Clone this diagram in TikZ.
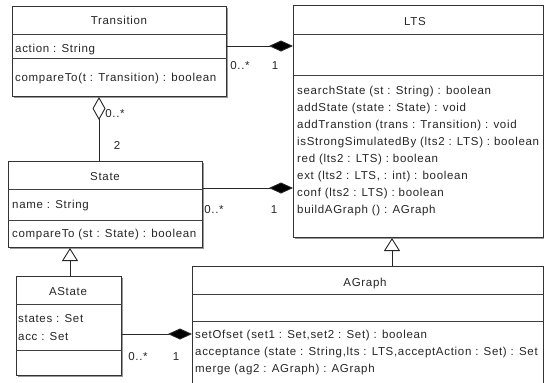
\documentclass[tikz,border=0pt]{standalone}
\usepackage{fontspec}
\setmainfont{Liberation Sans}[LetterSpace=6]
\usetikzlibrary{arrows.meta,calc,shadows}
\begin{document}
\begin{tikzpicture}[x=1pt,y=-1pt,
  every node/.style={font=\fontsize{11.5}{13}\selectfont, inner sep=0pt, text=black!85},
  classbox/.style={draw=black!80, line width=1pt, fill=white, anchor=north west,
    drop shadow={shadow xshift=1.6pt,shadow yshift=-1.6pt,fill=black!40,opacity=1}},
  divider/.style={draw=black!75, line width=0.9pt},
  title/.style={anchor=base},
  member/.style={anchor=base west},
  mult/.style={anchor=base},
  conn/.style={draw=black!85, line width=0.9pt},
  comp/.style={conn, -{Diamond[length=24pt,width=11pt,fill=black]}},
  aggr/.style={conn, {Diamond[open,length=23pt,width=13pt,fill=white]}-},
  gen/.style={conn, {Triangle[open,length=13pt,width=16pt,fill=white]}-},
]
\fill[white] (0,0) rectangle (544,383);
\useasboundingbox (0,0) rectangle (544,383);

% ---------- boxes ----------
\node[classbox, minimum width=214pt, minimum height=90pt] (trans) at (12,6) {};
\node[classbox, minimum width=250pt, minimum height=232pt] (lts) at (293,5) {};
\node[classbox, minimum width=194pt, minimum height=86pt] (state) at (8,161) {};
\node[classbox, minimum width=105pt, minimum height=99pt] (astate) at (16,276) {};
\node[classbox, minimum width=351pt, minimum height=118pt] (agraph) at (192,266) {};

% dividers
\draw[divider] ($(trans.north west)+(0,28)$) -- ($(trans.north east)+(0,28)$);
\draw[divider] ($(trans.north west)+(0,52)$) -- ($(trans.north east)+(0,52)$);
\draw[divider] ($(lts.north west)+(0,29)$) -- ($(lts.north east)+(0,29)$);
\draw[divider] ($(lts.north west)+(0,70)$) -- ($(lts.north east)+(0,70)$);
\draw[divider] ($(state.north west)+(0,28)$) -- ($(state.north east)+(0,28)$);
\draw[divider] ($(state.north west)+(0,59)$) -- ($(state.north east)+(0,59)$);
\draw[divider] ($(astate.north west)+(0,28)$) -- ($(astate.north east)+(0,28)$);
\draw[divider] ($(astate.north west)+(0,74)$) -- ($(astate.north east)+(0,74)$);
\draw[divider] ($(agraph.north west)+(0,28)$) -- ($(agraph.north east)+(0,28)$);
\draw[divider] ($(agraph.north west)+(0,55)$) -- ($(agraph.north east)+(0,55)$);

% ---------- texts ----------
\node[title] (transT) at (119,24) {Transition};
\node[member] (transA) at (15,52) {action : String};
\node[member] (transO) at (15,81) {compareTo(t : Transition) : boolean};

\node[title] (ltsT) at (415,25) {LTS};
\node[member] (lo1) at (297,94) {searchState (st : String) : boolean};
\node[member] (lo2) at (297,111) {addState (state : State) : void};
\node[member] (lo3) at (297,128) {addTranstion (trans : Transition) : void};
\node[member] (lo4) at (297,145) {isStrongSimulatedBy (lts2 : LTS) : boolean};
\node[member] (lo5) at (297,162) {red (lts2 : LTS) : boolean};
\node[member] (lo6) at (297,179) {ext (lts2 : LTS, : int) : boolean};
\node[member] (lo7) at (297,196) {conf (lts2 : LTS) : boolean};
\node[member] (lo8) at (297,213) {buildAGraph () : AGraph};

\node[title] (stateT) at (105,180) {State};
\node[member] (stateA) at (12,208) {name : String};
\node[member] (stateO) at (12,237) {compareTo (st : State) : boolean};

\node[title] (astateT) at (68,295) {AState};
\node[member] (astA1) at (18,322) {states : Set};
\node[member] (astA2) at (18,340) {acc : Set};

\node[title] (agraphT) at (365,286) {AGraph};
\node[member] (ago1) at (195,338) {setOfset (set1 : Set,set2 : Set) : boolean};
\node[member] (ago2) at (195,355) {acceptance (state : String,lts : LTS,acceptAction : Set) : Set};
\node[member] (ago3) at (195,372) {merge (ag2 : AGraph) : AGraph};

% ---------- connectors ----------
\draw[comp] ($(trans.north east)+(0,40)$) -- ($(lts.north west)+(0,41)$);
\draw[aggr] ($(trans.south west)+(87,0)$) -- ($(state.north west)+(91,0)$);
\draw[comp] ($(state.north east)+(0,27)$) -- ($(lts.north west)+(0,183)$);
\draw[gen] ($(state.south west)+(62,0)$) -- ($(astate.north west)+(54,0)$);
\draw[gen] ($(lts.south west)+(99,0)$) -- ($(agraph.north west)+(200,0)$);
\draw[comp] ($(astate.north east)+(0,58)$) -- ($(agraph.north west)+(0,68)$);

% multiplicities
\node[mult] (m1) at (240,69) {0..*};
\node[mult] (m2) at (275,69) {1};
\node[mult] (m3) at (115,117) {0..*};
\node[mult] (m4) at (117,149) {2};
\node[mult] (m5) at (214,213) {0..*};
\node[mult] (m6) at (274,213) {1};
\node[mult] (m7) at (138,360) {0..*};
\node[mult] (m8) at (176,360) {1};
\end{tikzpicture}
\end{document}
